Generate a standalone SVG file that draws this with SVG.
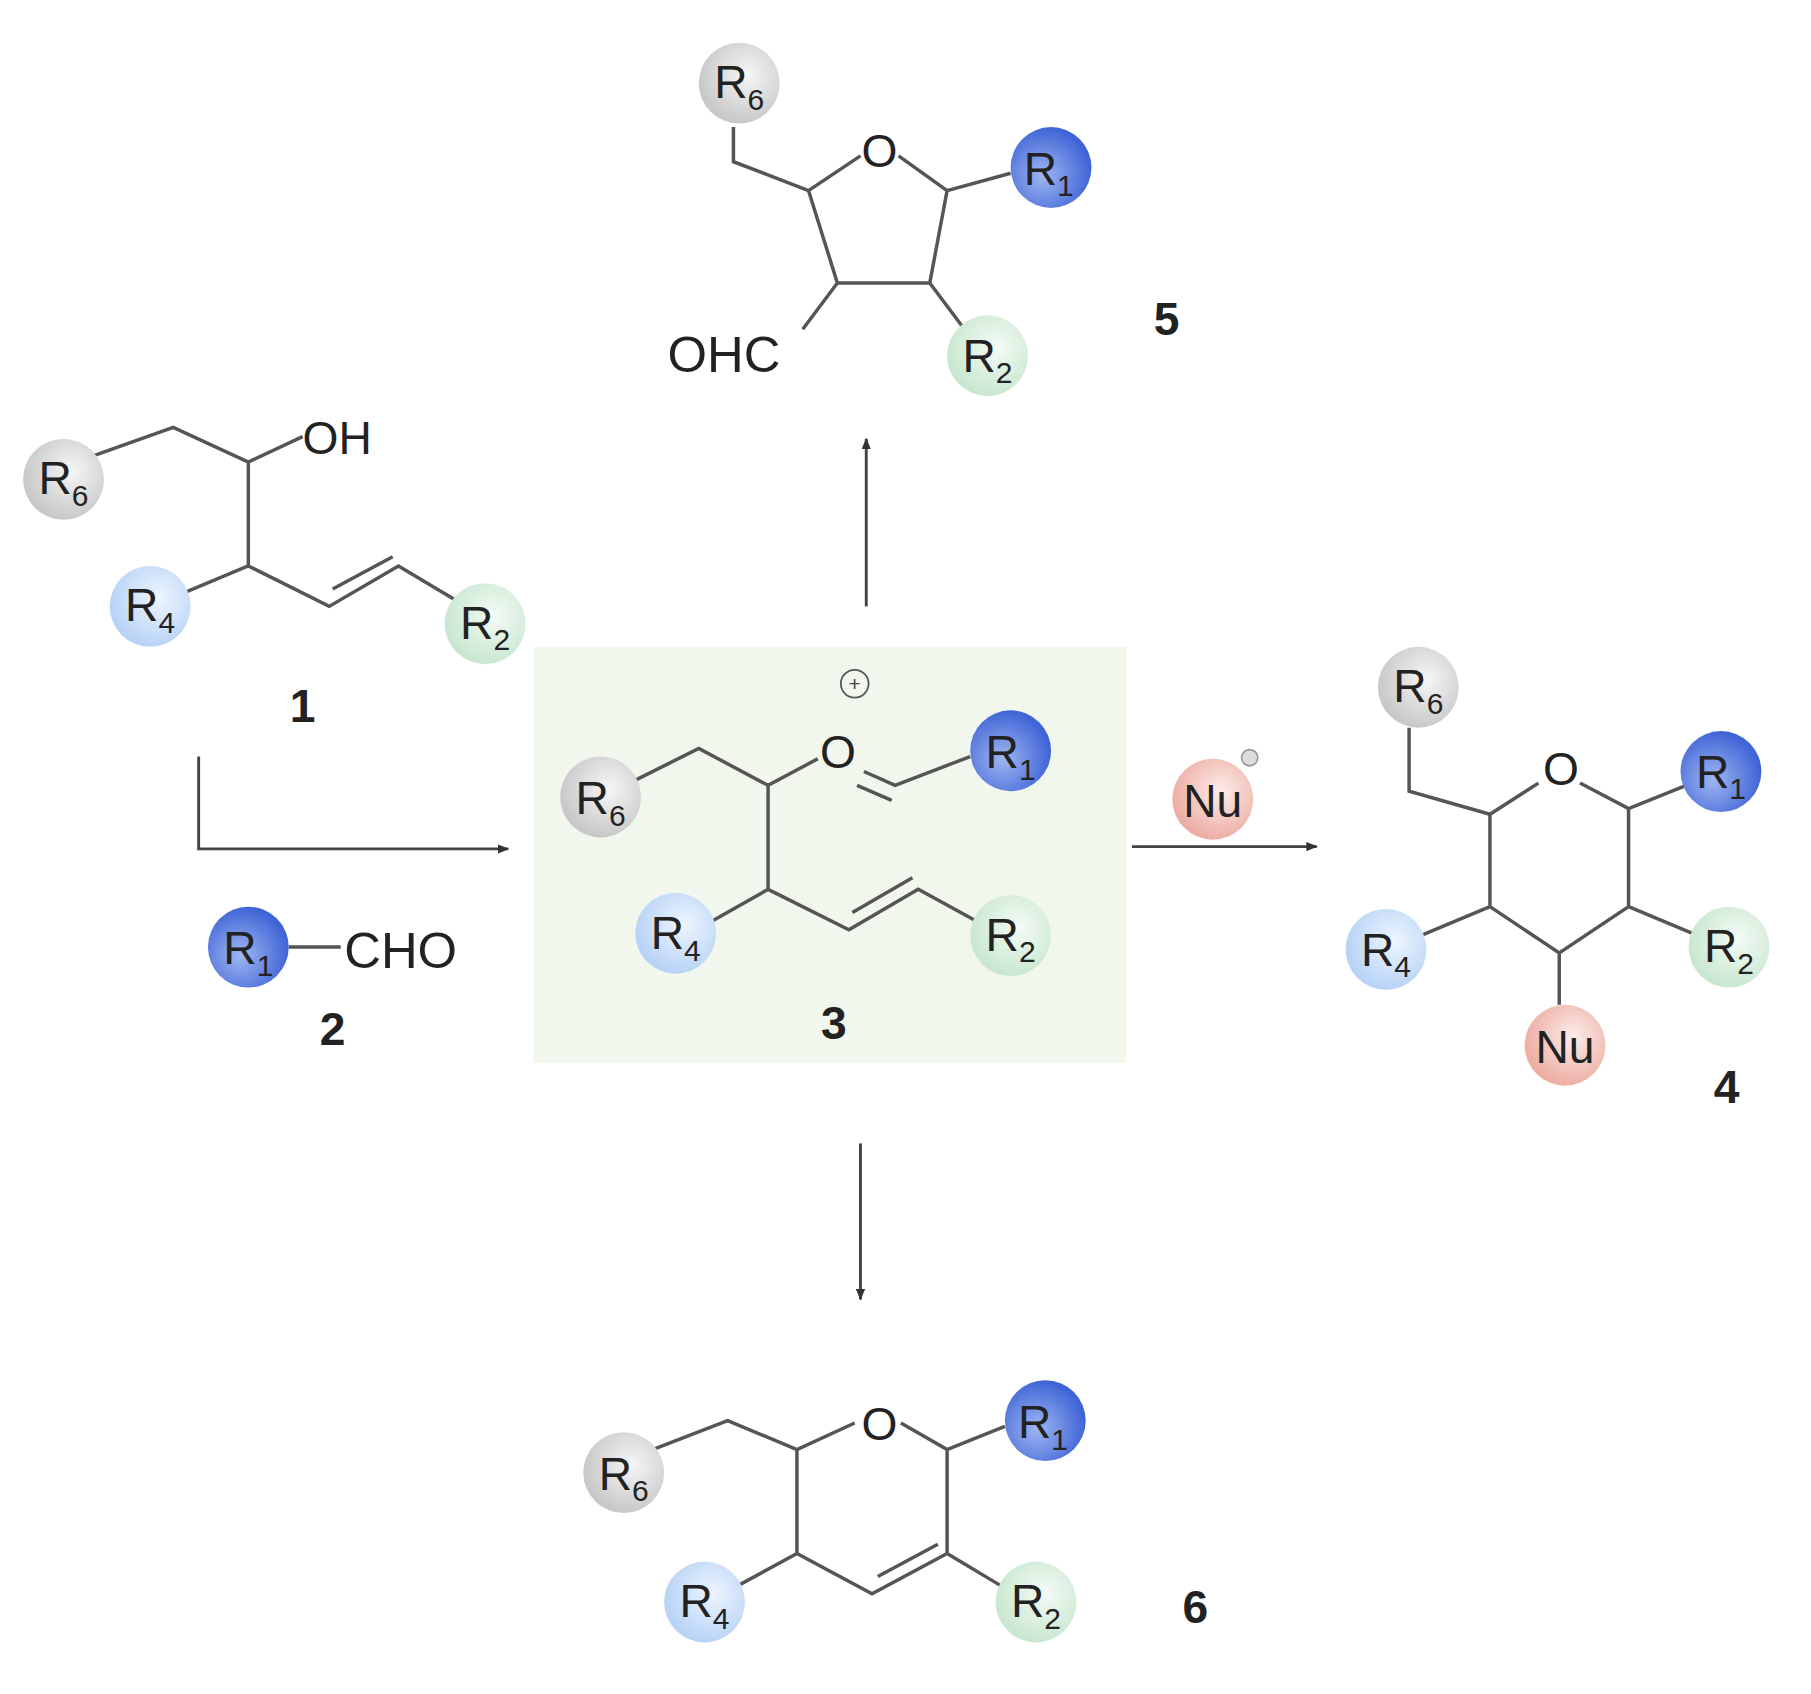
<svg xmlns="http://www.w3.org/2000/svg" width="1811" height="1694" viewBox="0 0 1811 1694">
<defs>
<radialGradient id="gG" cx="0.6" cy="0.4" r="0.6"><stop offset="0" stop-color="#f6f6f6"/><stop offset="1" stop-color="#c8c8c8"/></radialGradient>
<radialGradient id="gB" cx="0.4" cy="0.6" r="0.6"><stop offset="0" stop-color="#9fb6f2"/><stop offset="1" stop-color="#3f64d6"/></radialGradient>
<radialGradient id="gL" cx="0.6" cy="0.4" r="0.6"><stop offset="0" stop-color="#eef5ff"/><stop offset="1" stop-color="#b8d3f6"/></radialGradient>
<radialGradient id="gN" cx="0.6" cy="0.4" r="0.6"><stop offset="0" stop-color="#f4fbf5"/><stop offset="1" stop-color="#c9e7d0"/></radialGradient>
<radialGradient id="gR" cx="0.6" cy="0.4" r="0.6"><stop offset="0" stop-color="#fdecea"/><stop offset="1" stop-color="#ecaea3"/></radialGradient>
<marker id="ah" markerWidth="10" markerHeight="8" refX="9" refY="4" orient="auto" markerUnits="userSpaceOnUse"><path d="M0,0 L10,4 L0,8 z" fill="#333"/></marker>
<style>
.b{fill:none;stroke:#555;stroke-width:3}
.t{font-family:"Liberation Sans",Arial,sans-serif;font-size:40px;fill:#222}
.w{font-size:44px}
.r{font-family:"Liberation Sans",Arial,sans-serif;font-size:40px;fill:#222;text-anchor:middle}
.s{font-size:26px}
.n{font-family:"Liberation Sans",Arial,sans-serif;font-size:40px;font-weight:bold;fill:#222;text-anchor:middle}
.a{fill:none;stroke:#444;stroke-width:2.5}
</style>
</defs>
<rect width="1811" height="1694" fill="#fff"/>
<g transform="scale(1.155)">
<rect x="462" y="560" width="513" height="360" fill="#f1f7ec"/>
<g id="c1">
<path class="b" d="M80,395 L150,370 L215,400 L262,378 M215,400 L215,490 L155,515 M215,490 L285,525 L345,490 L395,520 M288,510 L340,482"/>
<circle cx="55" cy="415" r="35" fill="url(#gG)"/><text class="r" x="55" y="428">R<tspan class="s" dy="10">6</tspan></text>
<text class="t" x="262" y="393">OH</text>
<circle cx="130" cy="525" r="35" fill="url(#gL)"/><text class="r" x="130" y="538">R<tspan class="s" dy="10">4</tspan></text>
<circle cx="420" cy="540" r="35" fill="url(#gN)"/><text class="r" x="420" y="553">R<tspan class="s" dy="10">2</tspan></text>
<text class="n" x="262" y="625">1</text>
</g>
<g id="c2">
<path class="b" d="M250,820 L295,820"/>
<circle cx="215" cy="820" r="35" fill="url(#gB)"/><text class="r" x="215" y="835">R<tspan class="s" dy="10">1</tspan></text>
<text class="t w" x="298" y="838">CHO</text>
<text class="n" x="288" y="905">2</text>
</g>
<g id="c3">
<circle cx="740" cy="592" r="12" fill="none" stroke="#555" stroke-width="1.5"/><text x="740" y="598" font-family="Liberation Sans,sans-serif" font-size="18" text-anchor="middle" fill="#444">+</text>
<path class="b" d="M545,678 L605,648 L665,680 L708,657 M748,668 L775,680 L840,655 M742,680 L772,693 M665,680 L665,770 L612,800 M665,770 L735,805 L795,770 L850,800 M738,790 L790,760"/>
<circle cx="520" cy="690" r="35" fill="url(#gG)"/><text class="r" x="520" y="705">R<tspan class="s" dy="10">6</tspan></text>
<text class="t" x="710" y="665">O</text>
<circle cx="875" cy="650" r="35" fill="url(#gB)"/><text class="r" x="875" y="665">R<tspan class="s" dy="10">1</tspan></text>
<circle cx="585" cy="808" r="35" fill="url(#gL)"/><text class="r" x="585" y="822">R<tspan class="s" dy="10">4</tspan></text>
<circle cx="875" cy="810" r="35" fill="url(#gN)"/><text class="r" x="875" y="823">R<tspan class="s" dy="10">2</tspan></text>
<text class="n" x="722" y="900">3</text>
</g>
<g id="c4">
<path class="b" d="M1220,630 L1220,685 L1290,705 L1332,678 M1368,678 L1410,700 L1460,680 M1410,700 L1410,785 L1350,825 L1290,785 L1290,705 M1290,785 L1230,810 M1410,785 L1470,810 M1350,825 L1350,870"/>
<circle cx="1228" cy="595" r="35" fill="url(#gG)"/><text class="r" x="1228" y="608">R<tspan class="s" dy="10">6</tspan></text>
<text class="t" x="1336" y="680">O</text>
<circle cx="1490" cy="668" r="35" fill="url(#gB)"/><text class="r" x="1490" y="682">R<tspan class="s" dy="10">1</tspan></text>
<circle cx="1200" cy="822" r="35" fill="url(#gL)"/><text class="r" x="1200" y="836">R<tspan class="s" dy="10">4</tspan></text>
<circle cx="1497" cy="820" r="35" fill="url(#gN)"/><text class="r" x="1497" y="833">R<tspan class="s" dy="10">2</tspan></text>
<circle cx="1355" cy="905" r="35" fill="url(#gR)"/><text class="r" x="1355" y="920">Nu</text>
<text class="n" x="1495" y="955">4</text>
</g>
<g id="c5">
<path class="b" d="M635,110 L635,140 L700,165 L745,135 M778,135 L820,165 L875,150 M700,165 L725,245 L805,245 L820,165 M725,245 L695,285 M805,245 L835,285"/>
<circle cx="640" cy="72" r="35" fill="url(#gG)"/><text class="r" x="640" y="85">R<tspan class="s" dy="10">6</tspan></text>
<text class="t" x="746" y="145">O</text>
<circle cx="910" cy="145" r="35" fill="url(#gB)"/><text class="r" x="908" y="160">R<tspan class="s" dy="10">1</tspan></text>
<text class="t w" x="578" y="322">OHC</text>
<circle cx="855" cy="308" r="35" fill="url(#gN)"/><text class="r" x="855" y="322">R<tspan class="s" dy="10">2</tspan></text>
<text class="n" x="1010" y="290">5</text>
</g>
<g id="c6">
<path class="b" d="M565,1255 L630,1230 L690,1255 L740,1232 M780,1232 L820,1255 L870,1235 M690,1255 L690,1345 L635,1375 M690,1345 L755,1380 L820,1345 L820,1255 M760,1365 L812,1337 M820,1345 L870,1375"/>
<circle cx="540" cy="1275" r="35" fill="url(#gG)"/><text class="r" x="540" y="1290">R<tspan class="s" dy="10">6</tspan></text>
<text class="t" x="746" y="1247">O</text>
<circle cx="905" cy="1230" r="35" fill="url(#gB)"/><text class="r" x="903" y="1245">R<tspan class="s" dy="10">1</tspan></text>
<circle cx="610" cy="1387" r="35" fill="url(#gL)"/><text class="r" x="610" y="1400">R<tspan class="s" dy="10">4</tspan></text>
<circle cx="897" cy="1387" r="35" fill="url(#gN)"/><text class="r" x="897" y="1400">R<tspan class="s" dy="10">2</tspan></text>
<text class="n" x="1035" y="1405">6</text>
</g>
<g id="nu">
<circle cx="1050" cy="692" r="35" fill="url(#gR)"/><text class="r" x="1050" y="707">Nu</text>
<circle cx="1082" cy="656" r="7" fill="#ddd" stroke="#999" stroke-width="1.5"/>
</g>
<g id="connectors">
<path class="a" d="M172,655 L172,735 L440,735" marker-end="url(#ah)"/>
<path class="a" d="M980,733 L1140,733" marker-end="url(#ah)"/>
<path class="a" d="M750,525 L750,380" marker-end="url(#ah)"/>
<path class="a" d="M745,990 L745,1125" marker-end="url(#ah)"/>
</g>
</g>
</svg>
